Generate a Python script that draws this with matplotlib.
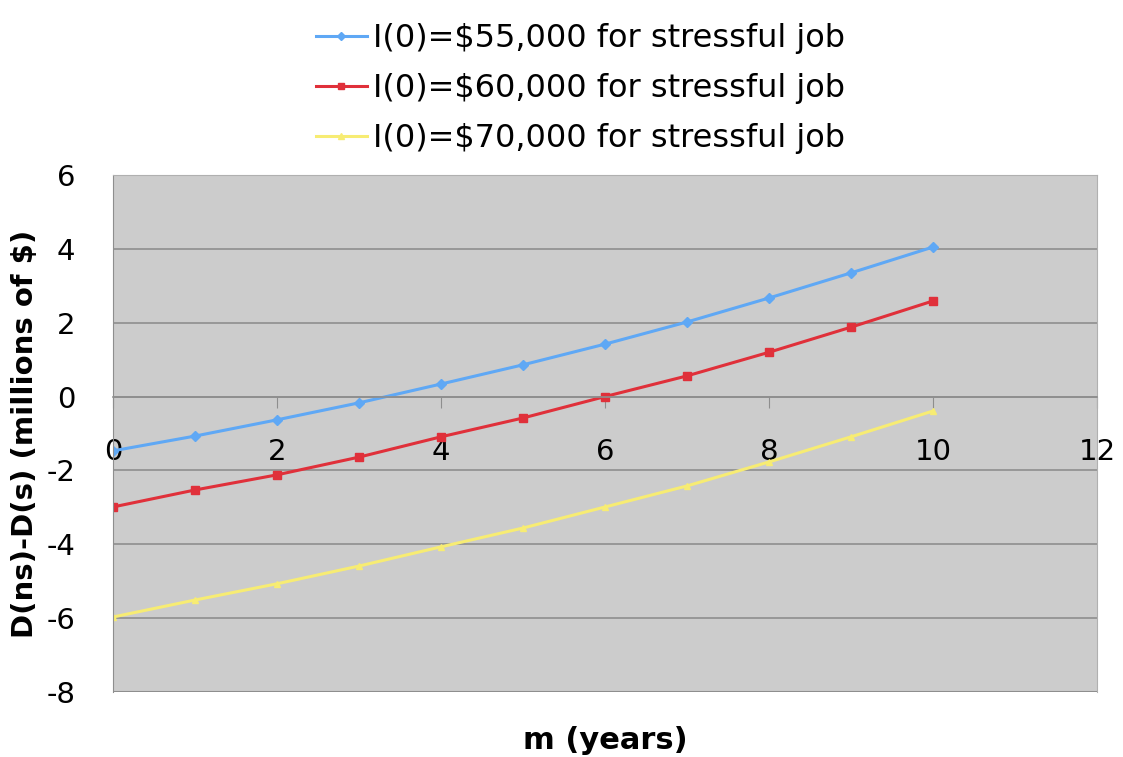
import numpy as np
import matplotlib.pyplot as plt

plt.rcParams['font.family'] = ['DejaVu Sans']
plt.rcParams['axes.unicode_minus'] = False

# m (years)
m = [0, 1, 2, 3, 4, 5, 6, 7, 8, 9, 10]

# D(ns) - D(s), millions of $
d_55k = [-1.47, -1.07, -0.63, -0.17, 0.34, 0.86, 1.42, 2.02, 2.67, 3.35, 4.05]
d_60k = [-2.99, -2.53, -2.12, -1.64, -1.09, -0.58, 0.0, 0.56, 1.20, 1.88, 2.59]
d_70k = [-5.97, -5.51, -5.07, -4.59, -4.07, -3.56, -2.99, -2.42, -1.77, -1.09, -0.39]

labels = ["I(0)=$55,000 for stressful job",
          "I(0)=$60,000 for stressful job",
          "I(0)=$70,000 for stressful job"]

fig = plt.figure(figsize=(11.23, 7.57), dpi=100)
ax = fig.add_axes([0.1006, 0.0859, 0.8763, 0.6829])
ax.set_facecolor("#cccccc")

ax.plot(m, d_55k, color="#5fa8f5", marker="D", markersize=5, lw=2.2, label=labels[0])
ax.plot(m, d_60k, color="#e0303a", marker="s", markersize=6, lw=2.2, label=labels[1])
ax.plot(m, d_70k, color="#f7ec73", marker="^", markersize=5, lw=2.2, label=labels[2])

ax.set_xlim(0, 12)
ax.set_ylim(-8, 6)
ax.set_xticks(np.arange(0, 13, 2))
ax.set_yticks(np.arange(-8, 7, 2))
ax.yaxis.grid(True, color="#8e8e8e", lw=1.2)
ax.set_axisbelow(True)

for s in ["top", "right"]:
    ax.spines[s].set_color("#b0b0b0")
ax.spines["left"].set_color("#8e8e8e")
ax.spines["bottom"].set_position(("data", 0))
ax.spines["bottom"].set_color("#8e8e8e")
ax.spines["bottom"].set_linewidth(1.2)
# lower border of plot area
ax.axhline(-8, color="#8e8e8e", lw=1.5)

ax.tick_params(axis="x", direction="out", length=8, color="#8e8e8e", labelsize=21, pad=22)
ax.tick_params(axis="y", length=0, labelsize=21, pad=27)

ax.set_xlabel("m (years)", fontsize=22, fontweight="bold")
ax.xaxis.label.set_va("center")
ax.xaxis.set_label_coords(0.5, -0.093)
ax.set_ylabel("D(ns)-D(s) (millions of $)", fontsize=21, fontweight="bold")
ax.yaxis.label.set_va("center")
ax.yaxis.set_label_coords(-0.089, 0.5)

ax.legend(loc="lower center", bbox_to_anchor=(0.475, 1.0), frameon=False,
          fontsize=23, handlelength=1.6, handletextpad=0.2, labelspacing=0.6,
          borderaxespad=0.25, markerscale=0.8)

fig.savefig("out.png", dpi=100)
